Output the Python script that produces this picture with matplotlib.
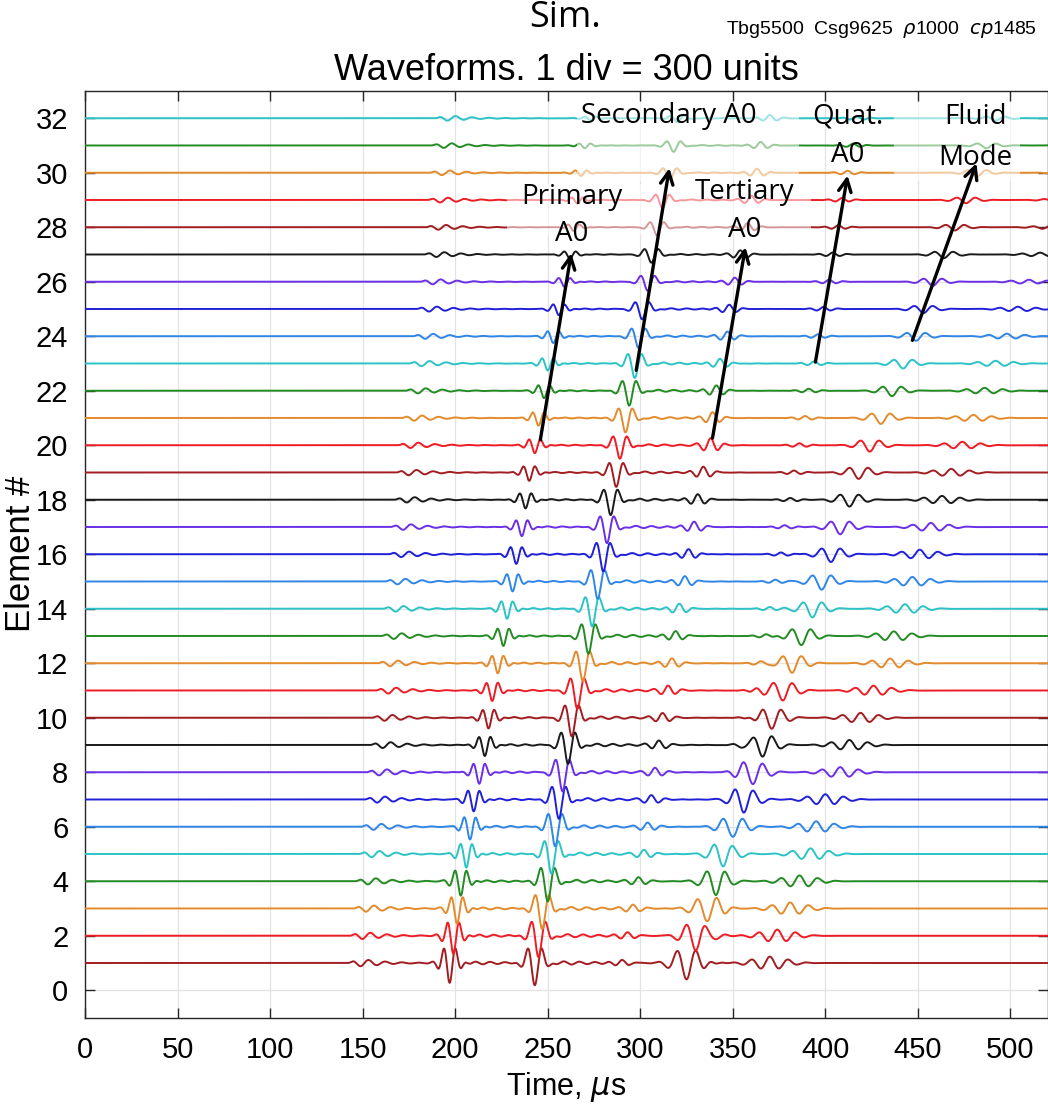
import numpy as np
import matplotlib
matplotlib.use("Agg")
import matplotlib.pyplot as plt
from matplotlib.patches import Rectangle

# ---------------------------------------------------------------- data
elements = list(range(1, 33))
div_units = 300.0          # 1 div = 300 units

# arrival times (us) and amplitudes (units) of each wave packet per element
precursor_t = [150, 151, 153, 154, 156, 157, 159, 160, 162, 163, 165, 166, 168, 169, 170, 172,
               173, 175, 176, 177, 179, 181, 183, 185, 187, 189, 191, 192, 193, 194, 195, 197]
precursor_amp = [36, 36, 35, 35, 35, 34, 34, 34, 33, 33, 33, 32, 32, 32, 31, 31,
                 31, 30, 30, 30, 29, 29, 29, 28, 28, 28, 27, 27, 27, 26, 26, 26]

primary_t = [197, 199, 201, 203, 206, 208, 210, 213, 216, 218, 220, 223, 226, 228, 231, 233,
             236, 238, 240, 243, 245, 248, 250, 253, 256, 259, 262, 264, 266, 268, 270, 273]
primary_amp = [220, 200, 170, 160, 150, 140, 130, 125, 120, 118, 115, 112, 110, 110, 108, 105,
               100, 95, 92, 88, 85, 82, 78, 75, 68, 55, 45, 40, 38, 35, 30, 25]

secondary_t = [243, 245, 247, 250, 252, 254, 256, 258, 261, 263, 266, 269, 272, 274, 277, 280,
               282, 284, 287, 289, 292, 294, 297, 299, 301, 304, 306, 309, 312, 316, 318, 320]
secondary_amp = [250, 240, 230, 225, 220, 218, 215, 212, 210, 208, 205, 200, 198, 196, 194, 190,
                 180, 170, 160, 150, 160, 165, 160, 130, 115, 100, 90, 85, 90, 75, 70, 45]

tertiary_t = [290, 293, 296, 299, 302, 304, 306, 308, 310, 312, 315, 317, 319, 321, 324, 326,
              329, 331, 334, 338, 339, 341, 343, 347, 348, 351, 354, 358, 360, 363, 365, 370]
tertiary_amp = [35, 36, 38, 40, 42, 42, 44, 45, 45, 48, 50, 52, 55, 57, 60, 60,
                60, 62, 65, 75, 65, 60, 55, 50, 48, 46, 45, 45, 45, 45, 40, 35]

quat_t = [337, 339, 342, 344, 347, 350, 352, 355, 357, 360, 363, 365, 368, 370, 373, 376,
          378, 381, 383, 386, 389, 391, 394, 396, 399, 402, 404, 407, 409, 412, 415, 417]
quat_amp = [20, 20, 20, 20, 20, 20, 20, 20, 20, 20, 20, 20, 20, 20, 20, 20,
            20, 20, 22, 22, 22, 22, 24, 22, 22, 22, 22, 22, 22, 22, 20, 20]

fluid_t = [325, 330, 336, 341, 345, 350, 356, 361, 366, 371, 377, 382, 387, 393, 398, 403,
           408, 413, 418, 424, 430, 436, 442, 449, 453, 458, 464, 470, 476, 482, 487, 492]
fluid_amp = [180, 165, 140, 140, 135, 130, 130, 130, 130, 120, 110, 105, 100, 95, 90, 85,
             80, 75, 70, 70, 65, 60, 55, 50, 45, 45, 40, 35, 35, 40, 30, 25]

trail_t = [370, 374, 381, 386, 392, 395, 400, 408, 413, 419, 426, 435, 437, 443, 447, 451,
           457, 463, 468, 474, 480, 486, 492, 498, 504, 510, 516, 522, 528, 534, 540, 546]
trail_amp = [70, 68, 66, 64, 62, 60, 58, 56, 55, 54, 53, 52, 51, 50, 50, 50,
             45, 42, 40, 38, 35, 32, 30, 28, 25, 22, 20, 20, 20, 20, 20, 20]

trace_colors = ["#a11d21", "#ee1c25", "#e38b2c", "#238b23", "#2cc3c6",
                "#2f86e6", "#2020d8", "#6a2fe6", "#1a1a1a"]

x_ticks = list(range(0, 501, 50))
y_ticks = list(range(0, 33, 2))


# ---------------------------------------------------------------- signal model
t = np.arange(0.0, 520.01, 0.1)


def gabor(tc, amp, period, sigma, phase=np.pi):
    env = np.exp(-0.5 * ((t - tc) / sigma) ** 2)
    return amp * env * np.cos(2 * np.pi * (t - tc) / period + phase)


def coda(tc, amp, period, tau):
    dt = np.clip(t - tc, 0, None)
    env = np.where(t > tc, np.exp(-dt / tau) * (1 - np.exp(-dt / 6.0)), 0.0)
    return amp * env * np.sin(2 * np.pi * dt / period)


def precursor(tp, amp, period=9.0):
    t0 = tp - 8.0
    dt = np.clip(t - t0, 0, None)
    x = dt / 8.0
    env = 0.7 * x ** 2 * np.exp(2 * (1 - x)) + 0.5 * np.exp(-dt / 26.0) * (1 - np.exp(-2 * x))
    return amp * env * np.sin(2 * np.pi * dt / period)


def waveform(i):
    s = precursor(precursor_t[i], precursor_amp[i])
    s += gabor(primary_t[i], primary_amp[i], 6.5, 4.0)
    s += coda(primary_t[i] + 4, 0.14 * primary_amp[i], 8.0, 22.0)
    s += gabor(secondary_t[i], secondary_amp[i], 8.0, 4.2)
    s += coda(secondary_t[i] + 5, 0.12 * secondary_amp[i], 8.5, 25.0)
    s += gabor(tertiary_t[i], tertiary_amp[i], 8.0, 4.5, phase=0.0)
    s += gabor(quat_t[i], quat_amp[i], 8.0, 5.0, phase=0.0)
    s += gabor(fluid_t[i], fluid_amp[i], 10.5, 6.5)
    s += gabor(trail_t[i], trail_amp[i], 10.0, 9.0, phase=0.0)
    return s


# ---------------------------------------------------------------- figure
W, H = 1048, 1110
AX_L, AX_R, AX_T, AX_B = 85, 1047.5, 91, 1017.5
fig = plt.figure(figsize=(W / 100, H / 100), dpi=100)
ax = fig.add_axes([AX_L / W, (H - AX_B) / H, (AX_R - AX_L) / W, (AX_B - AX_T) / H])

for i, k in enumerate(elements):
    ax.plot(t, k + waveform(i) / div_units, color=trace_colors[i % 9], lw=1.4, zorder=3)

ax.set_xlim(0, 520)
ax.set_ylim(-1, 33)
ax.set_xticks(x_ticks)
ax.set_yticks(y_ticks)
ax.grid(True, color="#e3e3e3", lw=0.9, zorder=0)
ax.set_axisbelow(True)

sans = ["Liberation Sans", "DejaVu Sans"]
ax.tick_params(direction="in", length=7, width=1, top=True, right=True, colors="#262626",
               labelsize=21)
ax.tick_params(axis="x", pad=13)
ax.tick_params(axis="y", pad=12)
for lab in ax.get_xticklabels() + ax.get_yticklabels():
    lab.set_fontfamily(sans)
    lab.set_color("black")
for sp in ax.spines.values():
    sp.set_color("#262626")
    sp.set_linewidth(1.0)

ax.set_xlabel(r"Time, $\mu$s", fontsize=22, family=sans, labelpad=5)
ax.set_ylabel("Element #", fontsize=25, family=sans)
ax.yaxis.set_label_coords(-0.05, 0.5)
ax.set_title("Waveforms. 1 div = 300 units", fontsize=26, family=sans, pad=8)

fig.text(565 / W, 1 - 18 / H, "Sim.", fontsize=26, family=["Open Sans", "DejaVu Sans"],
         ha="center", va="center")
fig.text(1037 / W, 1 - 29 / H, r"Tbg5500  Csg9625  $\rho$1000  $cp$1485", fontsize=14,
         family=sans, ha="right", va="center")

# translucent label panels
for (x0, x1, y0, y1) in [(228, 392, 27.7, 29.6), (266, 386, 29.7, 32.6), (437, 505, 29.7, 32.6)]:
    ax.add_patch(Rectangle((x0, y0), x1 - x0, y1 - y0, facecolor="white", alpha=0.55,
                           edgecolor="none", zorder=4))

ann_font = dict(fontsize=20, family=["Open Sans", "DejaVu Sans"], ha="center", va="center", zorder=6)
ax.text(263, 29.1, "Primary", **ann_font)
ax.text(263, 27.75, "A0", **ann_font)
ax.text(315.5, 32.1, "Secondary A0", **ann_font)
ax.text(356.5, 29.3, "Tertiary", **ann_font)
ax.text(356.5, 27.9, "A0", **ann_font)
ax.text(412, 32.05, "Quat.", **ann_font)
ax.text(412, 30.65, "A0", **ann_font)
ax.text(481, 32.05, "Fluid", **ann_font)
ax.text(481, 30.55, "Mode", **ann_font)

arrows = [((246, 20.2), (262.7, 27.05)),
          ((297.8, 22.75), (315.7, 30.17)),
          ((339, 20.26), (356.8, 27.27)),
          ((394.6, 23.05), (412, 29.9)),
          ((447, 23.85), (481.6, 30.35))]
for start, end in arrows:
    ax.annotate("", xy=end, xytext=start, zorder=7,
                arrowprops=dict(arrowstyle="->,head_length=0.9,head_width=0.45", lw=2.4,
                                color="black", shrinkA=0, shrinkB=0))

fig.savefig("out.png", dpi=100)
